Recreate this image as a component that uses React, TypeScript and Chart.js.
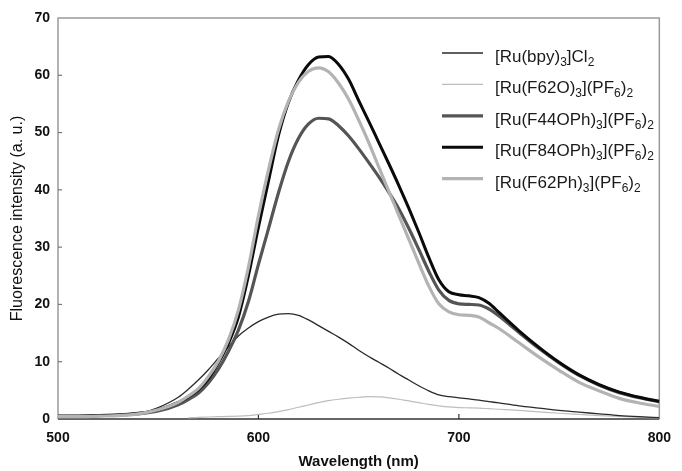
import React, { useEffect, useRef } from "react";
import { Chart, registerables } from "chart.js";
Chart.register(...registerables);

const wavelengths = [500, 510, 520, 530, 540, 550, 560, 565, 570, 575, 580, 585, 590, 595, 600, 605, 610, 615, 620, 625, 630, 635, 640, 645, 650, 655, 660, 665, 670, 675, 680, 685, 690, 695, 700, 705, 710, 715, 720, 730, 740, 750, 760, 770, 780, 790, 800];

const bpy = [0.5, 0.5, 0.5, 0.6, 0.9, 2.0, 3.8,
  5.2, 6.8, 8.6, 10.6, 12.6, 14.5, 15.9, 17.0, 17.8, 18.3,
  18.4, 18.1, 17.3, 16.3, 15.3, 14.3, 13.2, 12.0, 10.9, 9.9,
  8.9, 7.8, 6.8, 5.8, 4.9, 4.2, 3.9, 3.7, 3.5, 3.3,
  3.05, 2.8,
  2.3, 1.9, 1.5, 1.2, 0.9, 0.6, 0.4, 0.25];

const f62o = [null, null, null, null, null, null, null,
  0.2, 0.3, 0.35, 0.4, 0.45, 0.5, 0.6, 0.8, 1.0, 1.3,
  1.65, 2.05, 2.45, 2.85, 3.2, 3.45, 3.65, 3.8, 3.9, 3.85,
  3.7, 3.45, 3.15, 2.85, 2.55, 2.3, 2.1, 2.0, 1.95, 1.9,
  1.8, 1.7,
  1.5, 1.25, 1.0, 0.8, 0.6, 0.45, 0.3, 0.2];

const f44oph = [0.5, 0.5, 0.6, 0.7, 0.9, 1.4, 2.5,
  3.4, 4.5, 6.3, 8.7, 11.8, 15.5, 20.5, 27.0, 33.2, 39.5,
  45.0, 49.0, 51.5, 52.5, 52.4, 51.2, 49.4, 47.2, 44.8, 42.3,
  39.6, 36.7, 33.3, 29.6, 25.8, 22.5, 20.7, 20.1, 20.0, 19.9,
  19.2, 18.0,
  15.1, 12.3, 9.8, 7.6, 5.9, 4.6, 3.7, 3.0];

const f84oph = [0.5, 0.5, 0.6, 0.7, 1.0, 1.6, 2.9,
  3.9, 5.1, 7.0, 9.8, 13.2, 17.8, 25.0, 33.5, 41.5, 49.5,
  55.3, 59.2, 61.9, 63.2, 63.3, 61.9, 59.3, 55.6, 52.0, 48.3,
  44.6, 40.8, 36.8, 32.6, 28.2, 24.3, 22.2, 21.7, 21.5, 21.2,
  20.2, 18.6,
  15.4, 12.5, 9.9, 7.7, 6.0, 4.7, 3.8, 3.1];

const f62ph = [0.4, 0.4, 0.5, 0.6, 0.9, 1.6, 2.9,
  4.0, 5.3, 7.4, 10.1, 13.8, 19.0, 26.5, 35.5, 43.5, 50.5,
  55.5, 58.8, 60.7, 61.3, 60.6, 58.6, 55.8, 52.2, 48.3, 44.0,
  39.8, 35.6, 31.4, 27.2, 23.2, 20.1, 18.7, 18.2, 18.1, 17.8,
  16.8, 15.8,
  13.3, 10.8, 8.5, 6.4, 4.9, 3.6, 2.8, 2.2];

const seriesLabels = [
  "[Ru(bpy)₃]Cl₂",
  "[Ru(F62O)₃](PF₆)₂",
  "[Ru(F44OPh)₃](PF₆)₂",
  "[Ru(F84OPh)₃](PF₆)₂",
  "[Ru(F62Ph)₃](PF₆)₂",
];
const seriesValues = [bpy, f62o, f44oph, f84oph, f62ph];
const seriesColors = ["#2a2a2a", "#bdbdbd", "#555555", "#0a0a0a", "#b3b3b3"];
const seriesWidths = [1.3, 1.2, 3.2, 3, 3.2];
const seriesOrder = [3, 4, 2, 1, 0];

const xTickValues = [500, 600, 700, 800];
const yTickValues = [0, 10, 20, 30, 40, 50, 60, 70];

const FONT = "'Liberation Sans', Arial, Helvetica, sans-serif";
const SUBS = "₀₁₂₃₄₅₆₇₈₉";

function drawRich(ctx: CanvasRenderingContext2D, text: string, x: number, y: number) {
  const parts: { t: string; sub: boolean }[] = [];
  for (const ch of text) {
    const idx = SUBS.indexOf(ch);
    const sub = idx >= 0;
    const c = sub ? String(idx) : ch;
    const last = parts[parts.length - 1];
    if (last && last.sub === sub) last.t += c;
    else parts.push({ t: c, sub });
  }
  let cx = x;
  ctx.textAlign = "left";
  ctx.textBaseline = "alphabetic";
  for (const p of parts) {
    ctx.font = p.sub ? `12px ${FONT}` : `17px ${FONT}`;
    ctx.fillText(p.t, cx, p.sub ? y + 4 : y);
    cx += ctx.measureText(p.t).width;
  }
}

const framePlugin = {
  id: "frame",
  beforeDatasetsDraw(chart: any) {
    const { ctx, chartArea } = chart;
    const { left, right, top, bottom } = chartArea;
    const xs = chart.scales.x;
    const ys = chart.scales.y;
    ctx.save();
    ctx.lineWidth = 1.5;
    ctx.strokeStyle = "#9a9a9a";
    ctx.beginPath();
    ctx.moveTo(left, bottom);
    ctx.lineTo(left, top);
    ctx.lineTo(right, top);
    ctx.lineTo(right, bottom);
    ctx.stroke();
    ctx.strokeStyle = "#333";
    ctx.beginPath();
    ctx.moveTo(left, bottom);
    ctx.lineTo(right, bottom);
    ctx.stroke();
    ctx.lineWidth = 1.2;
    ctx.strokeStyle = "#777";
    for (const v of yTickValues) {
      if (v === 0 || v === 70) continue;
      const py = ys.getPixelForValue(v);
      ctx.beginPath();
      ctx.moveTo(left, py);
      ctx.lineTo(left + 4, py);
      ctx.stroke();
    }
    ctx.strokeStyle = "#333";
    for (const v of xTickValues) {
      if (v === 500 || v === 800) continue;
      const px = xs.getPixelForValue(v);
      ctx.beginPath();
      ctx.moveTo(px, bottom);
      ctx.lineTo(px, bottom - 5);
      ctx.stroke();
    }
    ctx.restore();
  },
};

const legendPlugin = {
  id: "customLegend",
  afterDatasetsDraw(chart: any) {
    const { ctx } = chart;
    ctx.save();
    seriesLabels.forEach((label, i) => {
      const cy = 56 + i * 31.4;
      ctx.strokeStyle = seriesColors[i];
      ctx.lineWidth = seriesWidths[i];
      ctx.beginPath();
      ctx.moveTo(442, cy - 3);
      ctx.lineTo(483, cy - 3);
      ctx.stroke();
      ctx.fillStyle = "#1a1a1a";
      drawRich(ctx, label, 495, cy + 6);
    });
    ctx.restore();
  },
};

export default function App() {
  const ref = useRef<HTMLCanvasElement | null>(null);
  useEffect(() => {
    document.body.style.margin = "0";
    const canvas = ref.current;
    if (!canvas) return;
    Chart.defaults.font.family = FONT;
    const chart = new Chart(canvas, {
      type: "line",
      data: {
        datasets: seriesLabels.map((label, i) => ({
          label,
          data: wavelengths.map((w, j) => ({ x: w, y: seriesValues[i][j] })),
          borderColor: seriesColors[i],
          backgroundColor: seriesColors[i],
          borderWidth: seriesWidths[i],
          pointRadius: 0,
          cubicInterpolationMode: "monotone" as const,
          fill: false,
          spanGaps: false,
          order: seriesOrder[i],
        })),
      },
      options: {
        animation: false,
        responsive: false,
        devicePixelRatio: 1,
        layout: { padding: { left: 0, right: 13, top: 18, bottom: 0 } },
        plugins: {
          legend: { display: false },
          tooltip: { enabled: false },
        },
        scales: {
          x: {
            type: "linear",
            min: 500,
            max: 800,
            afterBuildTicks: (s: any) => {
              s.ticks = xTickValues.map((v) => ({ value: v }));
            },
            afterFit: (s: any) => {
              s.height = 52;
            },
            grid: { display: false, drawTicks: false },
            border: { display: false },
            ticks: {
              padding: 11,
              color: "#111",
              font: { size: 14, family: FONT, weight: "bold" },
              maxRotation: 0,
              autoSkip: false,
            },
            title: {
              display: true,
              text: "Wavelength (nm)",
              color: "#111",
              font: { size: 15, family: FONT, weight: "bold" },
              padding: { top: 0, bottom: 0 },
            },
          },
          y: {
            type: "linear",
            min: 0,
            max: 70,
            afterBuildTicks: (s: any) => {
              s.ticks = yTickValues.map((v) => ({ value: v }));
            },
            afterFit: (s: any) => {
              s.width = 58;
            },
            grid: { display: false, drawTicks: false },
            border: { display: false },
            ticks: {
              padding: 8,
              color: "#111",
              font: { size: 14, family: FONT, weight: "bold" },
              autoSkip: false,
            },
            title: {
              display: true,
              text: "Fluorescence intensity (a. u.)",
              color: "#111",
              font: { size: 16, family: FONT },
              padding: { top: 8, bottom: 0 },
            },
          },
        },
      },
      plugins: [framePlugin, legendPlugin],
    });
    return () => chart.destroy();
  }, []);
  return (
    <div style={{ width: 682, height: 471 }}>
      <canvas ref={ref} width={682} height={471} style={{ display: "block" }} />
    </div>
  );
}
